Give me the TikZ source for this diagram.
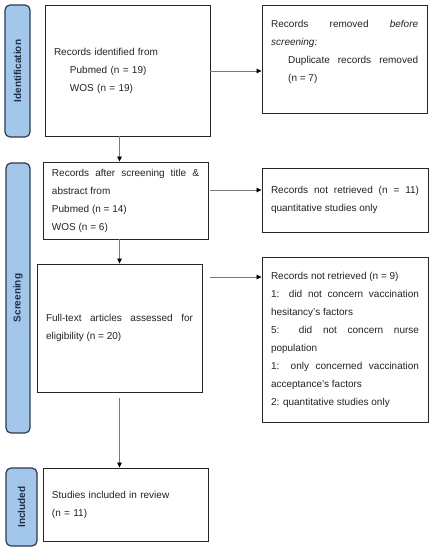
\documentclass[tikz,border=0pt]{standalone}
\usepackage{fontspec}
\setmainfont{Liberation Sans}
\usetikzlibrary{arrows.meta,calc}
\definecolor{labfill}{HTML}{A3C7EA}
\definecolor{labdraw}{HTML}{2B3A4C}
\definecolor{labtext}{HTML}{1F2D48}
\definecolor{boxdraw}{HTML}{262626}
\definecolor{txtcol}{HTML}{222222}
\definecolor{arrcol}{HTML}{7A7A7A}
\hyphenpenalty=10000
\exhyphenpenalty=10000
\tolerance=10000
\begin{document}
\begin{tikzpicture}[x=1pt,y=-1pt,
  box/.style={draw=boxdraw, line width=0.9pt, inner xsep=9pt, inner ysep=0pt,
    align=justify, text=txtcol, font=\fontsize{10}{18}\selectfont},
  txt/.style={inner sep=0pt, align=justify, text=txtcol, font=\fontsize{10}{18}\selectfont},
  phase/.style={rotate=90, draw=labdraw, fill=labfill, line width=1.2pt,
    rounded corners=5pt, inner sep=0pt, text=labtext,
    font=\fontsize{10}{12}\selectfont\bfseries},
  arr/.style={draw=arrcol, line width=0.8pt,
    -{Triangle[length=5pt,width=4.5pt,color=black]}}]
\useasboundingbox (0,0) rectangle (433,550);
% phase labels
\node[phase, minimum width=132pt, minimum height=25pt] (L1) at (17.5,71) {Identification};
\node[phase, minimum width=270pt, minimum height=24pt] (L2) at (18,298) {Screening};
\node[phase, minimum width=78pt, minimum height=31pt] (L3) at (21.5,507) {Included};
% boxes
\node[box, text width=147pt, minimum height=131pt, align=left] (B1) at (127.5,70.5)
  {Records identified from\\
   \hspace*{16pt}Pubmed (n~=~19)\\
   \hspace*{16pt}WOS (n~=~19)};
\node[box, text width=147pt, minimum height=108pt] (B2) at (344.5,59) {};
\node[txt, text width=147pt, anchor=base west] (B2t) at (271,27.8)
  {Records removed \textit{before screening:}\par
   {\leftskip=17pt Duplicate records removed (n~=~7)\par}};
\node[box, text width=147pt, minimum height=77pt] (B3) at (125.5,200.5)
  {Records after screening title \& abstract from\par
   Pubmed (n~=~14)\par
   WOS (n~=~6)};
\node[box, text width=148pt, minimum height=64pt] (B4) at (345,200)
  {Records not retrieved (n~=~11) quantitative studies only};
\node[box, text width=147pt, minimum height=128pt] (B5) at (119.5,328)
  {Full-text articles assessed for eligibility (n~=~20)};
\node[box, text width=148pt, minimum height=165pt] (B6) at (345,339.5)
  {Records not retrieved (n~=~9)\par
   1: did not concern vaccination hesitancy's factors\par
   5: did not concern nurse population\par
   1: only concerned vaccination acceptance's factors\par
   2: quantitative studies only};
\node[box, text width=147pt, minimum height=73pt, align=left] (B7) at (125.5,504.5)
  {Studies included in review\\
   (n~=~11)};
% helper coordinates
\coordinate (col) at (119.5,0);
\coordinate (r1) at (0,71);
\coordinate (r3) at (0,190);
\coordinate (r5) at (0,277);
% connectors
\draw[arr] (B1.east |- r1) -- (B2.west |- r1);
\draw[arr] (B1.south -| col) -- (B3.north -| col);
\draw[arr] ([xshift=2pt]B3.east |- r3) -- (B4.west |- r3);
\draw[arr] (B3.south -| col) -- (B5.north -| col);
\draw[arr] ([xshift=8pt]B5.east |- r5) -- (B6.west |- r5);
\draw[arr] ([yshift=-6pt]B5.south -| col) -- (B7.north -| col);
\end{tikzpicture}
\end{document}
